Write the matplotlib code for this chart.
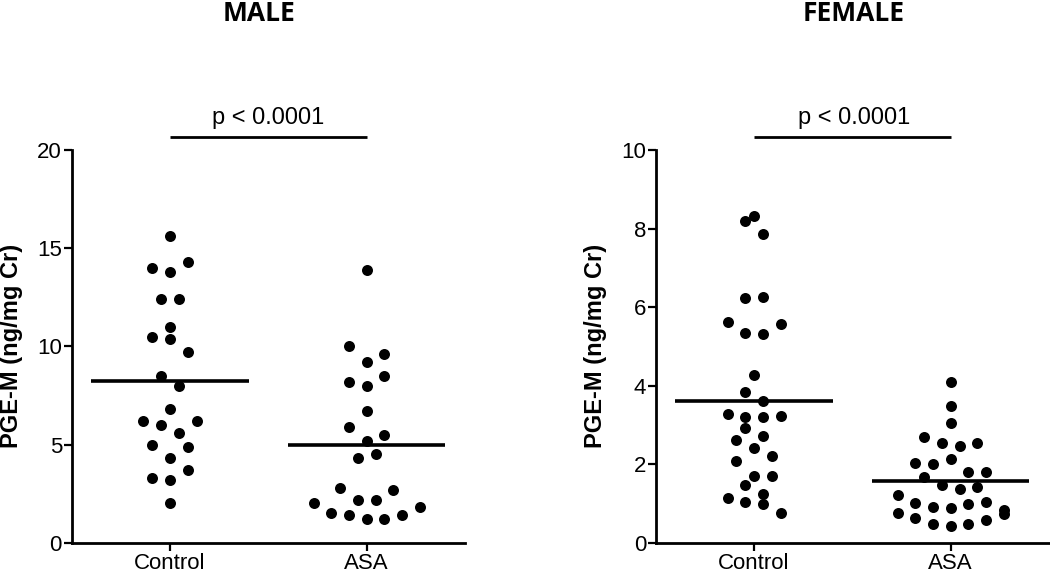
import matplotlib
matplotlib.use("Agg")
import matplotlib.pyplot as plt
import numpy as np

# values
groups = ["Control", "ASA"]

male_control = [15.6, 14.0, 13.8, 14.3, 12.4, 12.4, 10.5, 11.0, 10.4, 9.7, 8.5, 8.0,
                6.8, 6.2, 6.0, 5.6, 6.2, 5.0, 4.3, 4.9, 3.3, 3.2, 3.7, 2.0]
male_asa = [13.9, 10.0, 9.2, 9.6, 8.2, 8.0, 8.5, 6.7, 5.9, 5.2, 5.5, 4.3, 4.5,
            2.0, 1.5, 1.4, 1.2, 2.8, 2.2, 2.2, 2.7, 1.2, 1.4, 1.8]

female_control = [8.33, 8.19, 7.86, 6.22, 6.27, 5.62, 5.34, 5.32, 5.58, 4.28, 3.83, 3.61,
                  3.29, 3.20, 3.20, 3.22, 2.93, 2.73, 2.61, 2.41, 2.21, 2.08, 1.71, 1.70,
                  1.47, 1.23, 1.15, 1.03, 0.98, 0.76]
female_asa = [4.09, 3.48, 3.06, 2.69, 2.53, 2.47, 2.53, 2.03, 2.00, 2.13, 1.81, 1.81,
              1.67, 1.47, 1.37, 1.42, 1.21, 1.00, 0.91, 0.88, 0.98, 1.03, 0.75, 0.62,
              0.48, 0.42, 0.47, 0.57, 0.73, 0.83]

p_text = "p < 0.0001"

plt.rcParams['font.family'] = ['Liberation Sans', 'DejaVu Sans']

fig = plt.figure(figsize=(10.5, 5.74), dpi=100)
ax1 = fig.add_axes([0.0683, 0.0545, 0.3746, 0.6841])
ax2 = fig.add_axes([0.6245, 0.0545, 0.3746, 0.6841])

DOT = 11.0     # dot diameter in px
WIDE = 17.7    # spacing of dots sharing a row, px
ROW = 16.0     # height of a row bin, px


def rows_layout(ax, x0, vals):
    # Prism-like scatter: bin points into rows from the bottom, centre each row
    vals = np.asarray(vals, dtype=float)
    ys = ax.transData.transform(np.column_stack([np.full(len(vals), x0), vals]))[:, 1]
    xunit = ax.transData.transform([[1, 0]])[0, 0] - ax.transData.transform([[0, 0]])[0, 0]
    order = list(np.argsort(vals, kind='stable'))
    offs = np.zeros(len(vals))
    while order:
        start = ys[order[0]]
        row = [i for i in order if ys[i] - start <= ROW]
        order = [i for i in order if i not in row]
        row.sort()
        n = len(row)
        for j, i in enumerate(row):
            offs[i] = (j - (n - 1) / 2) * WIDE
    return x0 + offs / xunit


def panel(ax, title, ctrl, asa, ymax, yticks, title_x, p_x):
    ax.set_xlim(-0.5, 1.5)
    ax.set_ylim(0, ymax)
    for pos, vals in enumerate([ctrl, asa]):
        xs = rows_layout(ax, pos, vals)
        ax.scatter(xs, vals, s=(DOT * 0.72) ** 2, c='black', linewidths=0, zorder=3,
                   clip_on=False)
        m = np.mean(vals)
        ax.plot([pos - 0.4, pos + 0.4], [m, m], color='black', lw=2.6, zorder=4,
                solid_capstyle='butt')

    ax.set_xticks(range(len(groups)))
    ax.set_xticklabels(groups)
    ax.set_yticks(yticks)
    for s in ['top', 'right']:
        ax.spines[s].set_visible(False)
    for s in ['left', 'bottom']:
        ax.spines[s].set_linewidth(2)
    ax.tick_params(axis='both', length=6, width=1.6, labelsize=16, colors='black')
    ax.tick_params(axis='y', pad=1)
    ax.tick_params(axis='x', pad=1.5)
    ax.set_ylabel("PGE-M (ng/mg Cr)", fontsize=17, fontweight='bold')
    ax.yaxis.set_label_coords(-0.125, 0.5)

    tr = ax.get_xaxis_transform()
    ax.plot([0, 1], [1.034, 1.034], transform=tr, clip_on=False, color='black', lw=2,
            solid_capstyle='butt')
    ax.text(p_x, 1.066, p_text, transform=tr, ha='center', va='baseline', fontsize=17)
    ax.text(title_x, 1.329, title, transform=ax.transAxes, ha='center', va='baseline',
            fontsize=19, fontweight='bold', family=['Open Sans', 'DejaVu Sans'])


panel(ax1, "MALE", male_control, male_asa, 20, [0, 5, 10, 15, 20], 0.476, 0.5)
panel(ax2, "FEMALE", female_control, female_asa, 10, [0, 2, 4, 6, 8, 10], 0.504, 0.51)

fig.savefig("out.png", dpi=100)
